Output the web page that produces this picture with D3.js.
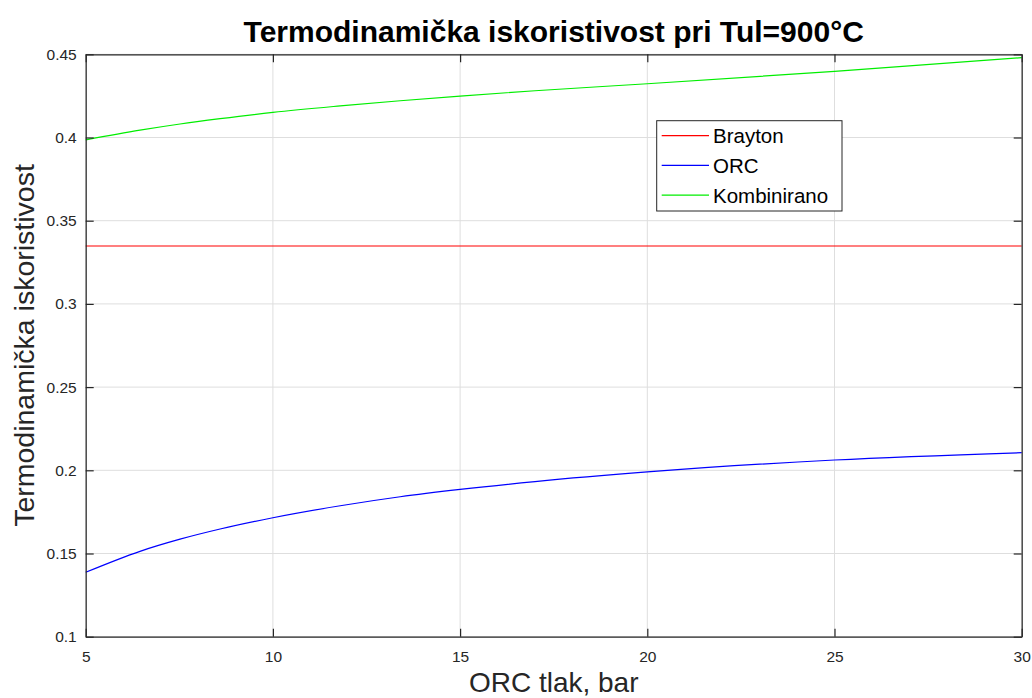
<!DOCTYPE html>
<html>
<head>
<meta charset="utf-8">
<script src="https://cdn.jsdelivr.net/npm/d3@7"></script>
<style>
  html, body { margin: 0; padding: 0; background: #fff; }
  svg { display: block; font-family: "Liberation Sans", Arial, sans-serif; }
</style>
</head>
<body>
<svg id="chart" width="1032" height="698"></svg>
<script>
// ---- data ----
const pressure   = [5, 6.45, 7.52, 8.59, 10, 11.8, 13.4, 15, 17, 20, 25, 30];
const orc        = [0.1387, 0.1513, 0.1586, 0.1647, 0.1715, 0.1787, 0.1841, 0.1885, 0.1932, 0.1990, 0.2062, 0.2106];
const combined   = [0.3986, 0.4044, 0.4081, 0.4113, 0.4151, 0.4190, 0.4221, 0.4249, 0.4281, 0.4323, 0.4397, 0.4480];
const brayton    = pressure.map(() => 0.3348);
const seriesNames = ["Brayton", "ORC", "Kombinirano"];
const xTicks = [5, 10, 15, 20, 25, 30];
const yTicks = [0.1, 0.15, 0.2, 0.25, 0.3, 0.35, 0.4, 0.45];
const titleText = "Termodinamička iskoristivost pri Tul=900°C";
const xLabel = "ORC tlak, bar";
const yLabel = "Termodinamička iskoristivost";

// ---- layout ----
const L = 85.7, R = 1021.7, T = 54.3, B = 636.7;
const svg = d3.select("#chart");
const x = d3.scaleLinear().domain([5, 30]).range([L, R]);
const y = d3.scaleLinear().domain([0.1, 0.45]).range([B, T]);
const colors = ["#ff0000", "#0000ff", "#00ee00"];
const axisColor = "#262626";

// grid
const grid = svg.append("g");
grid.selectAll("line.gx").data(xTicks).join("line")
  .attr("x1", d => x(d)).attr("x2", d => x(d)).attr("y1", T).attr("y2", B)
  .attr("stroke", "#dedede").attr("stroke-width", 1);
grid.selectAll("line.gy").data(yTicks).join("line")
  .attr("y1", d => y(d)).attr("y2", d => y(d)).attr("x1", L).attr("x2", R)
  .attr("stroke", "#dedede").attr("stroke-width", 1);

// lines
const lineGen = d3.line().x(d => x(d[0])).y(d => y(d[1])).curve(d3.curveMonotoneX);
const allSeries = [brayton, orc, combined];
allSeries.forEach((vals, i) => {
  svg.append("path")
    .datum(pressure.map((p, j) => [p, vals[j]]))
    .attr("d", lineGen)
    .attr("fill", "none")
    .attr("stroke", colors[i])
    .attr("stroke-width", 1.2);
});

// axes (inside ticks, box)
const tickLen = 8;
const xAxisB = d3.axisBottom(x).tickValues(xTicks).tickSizeInner(-tickLen).tickSizeOuter(0).tickPadding(14).tickFormat(d3.format("d"));
const xAxisT = d3.axisTop(x).tickValues(xTicks).tickSizeInner(-tickLen).tickSizeOuter(0).tickFormat("");
const yAxisL = d3.axisLeft(y).tickValues(yTicks).tickSizeInner(-tickLen).tickSizeOuter(0).tickPadding(9).tickFormat(d => d3.format("")(+d.toFixed(2)));
const yAxisR = d3.axisRight(y).tickValues(yTicks).tickSizeInner(-tickLen).tickSizeOuter(0).tickFormat("");

function style(g) {
  g.select(".domain").attr("stroke", axisColor).attr("stroke-width", 1.2);
  g.selectAll(".tick line").attr("stroke", axisColor).attr("stroke-width", 1.2);
  g.selectAll(".tick text").attr("fill", "#262626").attr("font-size", 15.5)
    .attr("font-family", "'Liberation Sans', Arial, sans-serif");
}
svg.append("g").attr("transform", `translate(0,${B})`).call(xAxisB).call(style);
svg.append("g").attr("transform", `translate(0,${T})`).call(xAxisT).call(style);
svg.append("g").attr("transform", `translate(${L},0)`).call(yAxisL).call(style);
svg.append("g").attr("transform", `translate(${R},0)`).call(yAxisR).call(style);

// title
svg.append("text").attr("x", (L + R) / 2).attr("y", 41.5)
  .attr("text-anchor", "middle").attr("font-weight", "bold").attr("font-size", 30)
  .attr("fill", "#000").text(titleText);

// x label
svg.append("text").attr("x", (L + R) / 2).attr("y", 692)
  .attr("text-anchor", "middle").attr("font-size", 28).attr("fill", "#262626").text(xLabel);

// y label
svg.append("text").attr("transform", `translate(34,${(T + B) / 2}) rotate(-90)`)
  .attr("text-anchor", "middle").attr("font-size", 28.5).attr("fill", "#262626").text(yLabel);

// legend
const lg = svg.append("g");
lg.append("rect").attr("x", 656.7).attr("y", 120.7).attr("width", 185.3).attr("height", 90.3)
  .attr("fill", "#fff").attr("stroke", axisColor).attr("stroke-width", 1);
seriesNames.forEach((name, i) => {
  const cy = 135.7 + i * 29.7;
  lg.append("line").attr("x1", 661.7).attr("x2", 709).attr("y1", cy).attr("y2", cy)
    .attr("stroke", colors[i]).attr("stroke-width", 1.2);
  lg.append("text").attr("x", 713).attr("y", cy + 7.5).attr("font-size", 20.5)
    .attr("fill", "#000").text(name);
});
</script>
</body>
</html>
